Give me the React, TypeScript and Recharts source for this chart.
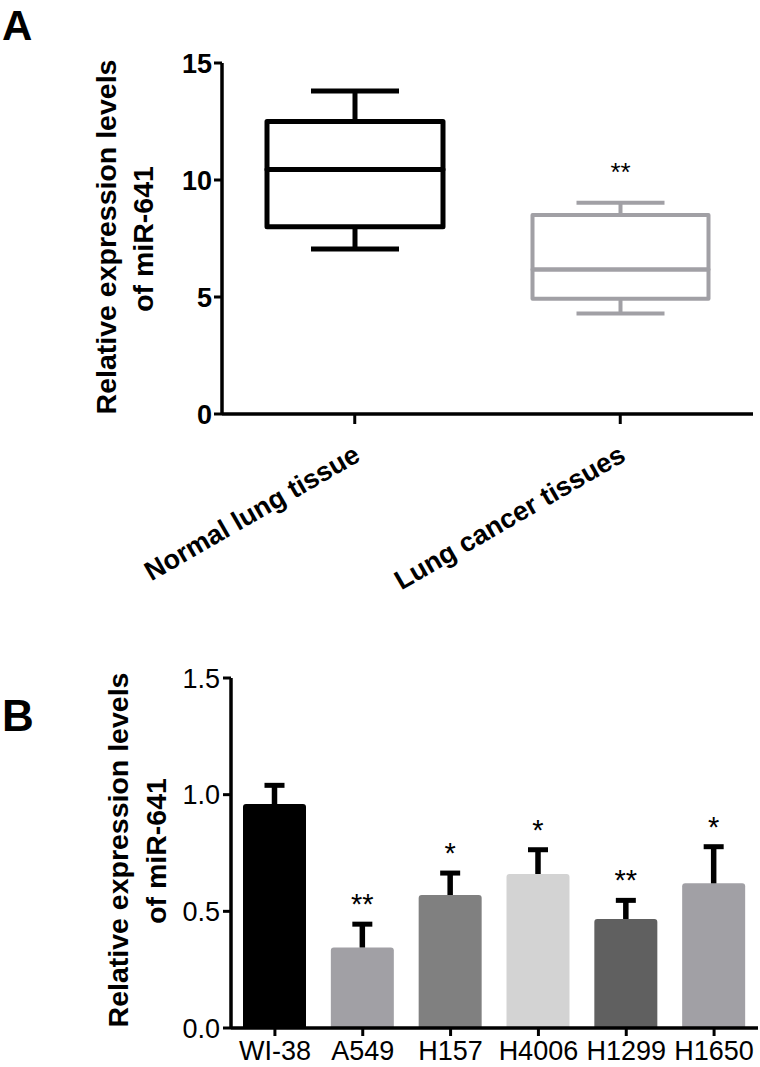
import React from "react";
import { ComposedChart, BarChart, Bar, XAxis, YAxis } from "recharts";

const FONT = '"Liberation Sans", Arial, Helvetica, sans-serif';

// panel A - box plots of tissue samples
const tissueGroups = ["Normal lung tissue", "Lung cancer tissues"];
const boxMin = [7.05, 4.3];
const boxQ1 = [8.0, 4.92];
const boxMedian = [10.45, 6.18];
const boxQ3 = [12.5, 8.5];
const boxMax = [13.8, 9.03];
const tissueSig = ["", "**"];
const tissueTicks = [0, 5, 10, 15];

// panel B - cell lines
const cellLines = ["WI-38", "A549", "H157", "H4006", "H1299", "H1650"];
const cellMeans = [0.96, 0.345, 0.57, 0.66, 0.467, 0.62];
const cellErr = [0.08, 0.1, 0.094, 0.104, 0.08, 0.157];
const cellSig = ["", "**", "*", "*", "**", "*"];
const cellTicks = [0, 0.5, 1.0, 1.5];

const boxColors = ["#000000", "#a1a0a5"];
const boxStroke = [5, 4];
const barColors = ["#000000", "#a1a0a5", "#808080", "#d3d3d3", "#606060", "#a1a0a5"];

const boxData = tissueGroups.map((name, i) => ({
  name,
  base: boxMin[i],
  lowWhisker: boxQ1[i] - boxMin[i],
  lowBox: boxMedian[i] - boxQ1[i],
  highBox: boxQ3[i] - boxMedian[i],
  highWhisker: boxMax[i] - boxQ3[i],
  sig: tissueSig[i],
}));

const cellData = cellLines.map((name, i) => ({
  name,
  mean: cellMeans[i],
  err: cellErr[i],
  sig: cellSig[i],
}));

const groupIdx = (p: any) => Math.max(0, tissueGroups.indexOf(p.payload?.name));

const LowWhisker = (p: any) => {
  const i = groupIdx(p);
  const cx = p.x + p.width / 2;
  const cap = p.width / 4;
  const st = { stroke: boxColors[i], strokeWidth: boxStroke[i] };
  return (
    <g>
      <line x1={cx} x2={cx} y1={p.y} y2={p.y + p.height} {...st} />
      <line x1={cx - cap} x2={cx + cap} y1={p.y + p.height} y2={p.y + p.height} {...st} />
    </g>
  );
};

const BoxPart = (p: any) => {
  const i = groupIdx(p);
  return (
    <rect
      x={p.x}
      y={p.y}
      width={p.width}
      height={p.height}
      fill="none"
      stroke={boxColors[i]}
      strokeWidth={boxStroke[i]}
      strokeLinejoin="round"
    />
  );
};

const HighWhisker = (p: any) => {
  const i = groupIdx(p);
  const cx = p.x + p.width / 2;
  const cap = p.width / 4;
  const st = { stroke: boxColors[i], strokeWidth: boxStroke[i] };
  return (
    <g>
      <line x1={cx} x2={cx} y1={p.y} y2={p.y + p.height} {...st} />
      <line x1={cx - cap} x2={cx + cap} y1={p.y} y2={p.y} {...st} />
      {p.payload?.sig ? (
        <text x={cx} y={p.y - 22} textAnchor="middle" fontSize={26} fontFamily={FONT} fill="#000">
          {p.payload.sig}
        </text>
      ) : null}
    </g>
  );
};

const ErrorT = (p: any) => {
  const cx = p.x + p.width / 2;
  return (
    <g>
      <line x1={cx} x2={cx} y1={p.y} y2={p.y + p.height} stroke="#000" strokeWidth={5.5} />
      <line x1={cx - 10} x2={cx + 10} y1={p.y} y2={p.y} stroke="#000" strokeWidth={5} />
      {p.payload?.sig ? (
        <text x={cx} y={p.y - 10} textAnchor="middle" fontSize={29} fontFamily={FONT} fill="#000">
          {p.payload.sig}
        </text>
      ) : null}
    </g>
  );
};

const MeanBar = (p: any) => {
  const i = Math.max(0, cellLines.indexOf(p.payload?.name));
  const r = 3;
  const { x, y, width: w, height: h } = p;
  const d = `M${x},${y + h} L${x},${y + r} Q${x},${y} ${x + r},${y} L${x + w - r},${y} Q${x + w},${y} ${x + w},${y + r} L${x + w},${y + h} Z`;
  return <path d={d} fill={barColors[i]} />;
};

const TissueTick = ({ x, y, payload }: any) => {
  const ax = x + 7;
  const ay = y + 34;
  return (
    <text
      x={ax}
      y={ay}
      textAnchor="end"
      transform={`rotate(-30, ${ax}, ${ay})`}
      fontSize={27}
      fontWeight="bold"
      fontFamily={FONT}
      fill="#000"
    >
      {payload.value}
    </text>
  );
};

const CellTick = ({ x, y, payload }: any) => (
  <text x={x} y={y + 22} textAnchor="middle" fontSize={27} fontFamily={FONT} fill="#000">
    {payload.value}
  </text>
);

const axisLine = { stroke: "#000", strokeWidth: 3.5 };
const tickLine = { stroke: "#000", strokeWidth: 3 };

export default function App() {
  return (
    <div style={{ position: "absolute", left: 0, top: 0, width: 760, height: 1067, background: "#fff" }}>
      <div style={{ position: "absolute", left: 0, top: 0 }}>
        <ComposedChart
          width={760}
          height={600}
          data={boxData}
          margin={{ top: 63, right: 7, bottom: 36, left: 0 }}
        >
          <XAxis
            dataKey="name"
            height={150}
            interval={0}
            axisLine={axisLine}
            tickLine={tickLine}
            tickSize={10}
            tick={<TissueTick />}
          />
          <YAxis
            width={222}
            domain={[0, 15]}
            ticks={tissueTicks}
            axisLine={axisLine}
            tickLine={tickLine}
            tickSize={8}
            tickMargin={2}
            tick={{ fill: "#000", fontSize: 27, fontWeight: "bold", fontFamily: FONT }}
          />
          <Bar dataKey="base" stackId="box" barSize={176} fill="transparent" isAnimationActive={false} />
          <Bar dataKey="lowWhisker" stackId="box" barSize={176} shape={<LowWhisker />} isAnimationActive={false} />
          <Bar dataKey="lowBox" stackId="box" barSize={176} shape={<BoxPart />} isAnimationActive={false} />
          <Bar dataKey="highBox" stackId="box" barSize={176} shape={<BoxPart />} isAnimationActive={false} />
          <Bar dataKey="highWhisker" stackId="box" barSize={176} shape={<HighWhisker />} isAnimationActive={false} />
        </ComposedChart>
      </div>

      <div style={{ position: "absolute", left: 0, top: 620 }}>
        <BarChart
          width={760}
          height={447}
          data={cellData}
          margin={{ top: 58, right: 2, bottom: 0, left: 0 }}
        >
          <XAxis
            dataKey="name"
            height={39}
            interval={0}
            axisLine={axisLine}
            tickLine={tickLine}
            tickSize={8}
            tick={<CellTick />}
          />
          <YAxis
            width={231}
            domain={[0, 1.5]}
            ticks={cellTicks}
            tickFormatter={(v: number) => v.toFixed(1)}
            axisLine={axisLine}
            tickLine={tickLine}
            tickSize={8}
            tickMargin={3}
            tick={{ fill: "#000", fontSize: 27, fontFamily: FONT }}
          />
          <Bar dataKey="mean" stackId="c" barSize={63} shape={<MeanBar />} isAnimationActive={false} />
          <Bar dataKey="err" stackId="c" barSize={63} shape={<ErrorT />} isAnimationActive={false} />
        </BarChart>
      </div>

      <svg
        width={760}
        height={1067}
        style={{ position: "absolute", left: 0, top: 0, pointerEvents: "none" }}
        fontFamily={FONT}
        fontWeight="bold"
        fill="#000"
      >
        <text x={2} y={40} fontSize={42}>A</text>
        <text x={2} y={731} fontSize={44}>B</text>
        <text x={116} y={237} fontSize={28.5} textAnchor="middle" transform="rotate(-90, 116, 237)">
          Relative expression levels
        </text>
        <text x={153} y={239} fontSize={28.5} textAnchor="middle" transform="rotate(-90, 153, 239)">
          of miR-641
        </text>
        <text x={128} y={850} fontSize={28.5} textAnchor="middle" transform="rotate(-90, 128, 850)">
          Relative expression levels
        </text>
        <text x={166} y={851} fontSize={28.5} textAnchor="middle" transform="rotate(-90, 166, 851)">
          of miR-641
        </text>
      </svg>
    </div>
  );
}
